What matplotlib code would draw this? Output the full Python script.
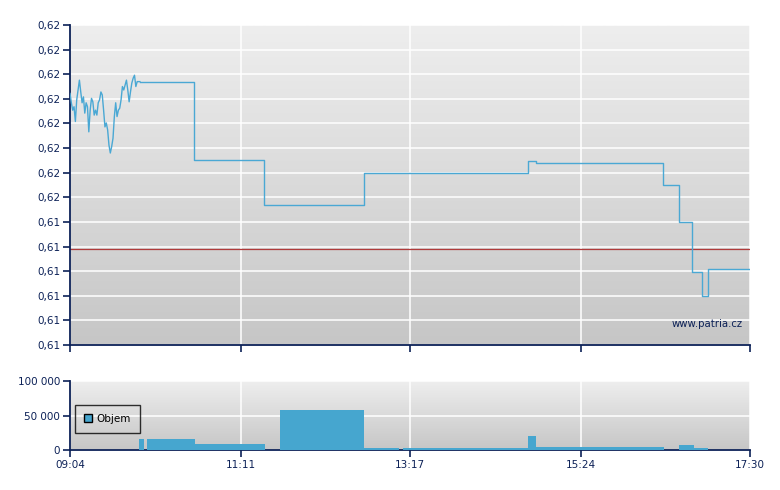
import matplotlib
matplotlib.use('Agg')
import matplotlib.pyplot as plt
import numpy as np
from matplotlib.colors import LinearSegmentedColormap
from matplotlib.patches import Patch

# ---------------- data ----------------
price_times = [
    "09:04", "09:05", "09:06", "09:07", "09:08", "09:09", "09:10", "09:11", "09:12", "09:13",
    "09:14", "09:15", "09:16", "09:17", "09:18", "09:19", "09:20", "09:21", "09:22", "09:23",
    "09:24", "09:25", "09:26", "09:27", "09:28", "09:29", "09:30", "09:31", "09:32", "09:33",
    "09:34", "09:35", "09:36", "09:37", "09:38", "09:39", "09:40", "09:41", "09:42", "09:43",
    "09:44", "09:45", "09:46", "09:47", "09:48", "09:49", "09:50", "09:51", "09:52", "09:53",
    "09:54", "09:56", "10:36", "11:28", "12:43", "14:45", "14:51", "16:25", "16:37", "16:47",
    "16:54", "16:59", "17:30",
]
price_values = [
    0.61761, 0.61742, 0.61727, 0.61734, 0.61704, 0.61748, 0.61768, 0.61788, 0.61764, 0.61742,
    0.61754, 0.61721, 0.61742, 0.61734, 0.61683, 0.61727, 0.61751, 0.61744, 0.61717, 0.61727,
    0.61717, 0.61742, 0.61748, 0.61764, 0.61758, 0.61727, 0.61693, 0.61701, 0.61687, 0.61656,
    0.61640, 0.61653, 0.61670, 0.61714, 0.61742, 0.61714, 0.61727, 0.61731, 0.61748, 0.61775,
    0.61768, 0.61778, 0.61788, 0.61768, 0.61744, 0.61764, 0.61782, 0.61792, 0.61798, 0.61775,
    0.61785, 0.61785, 0.61625, 0.61534, 0.61599, 0.61624, 0.61620, 0.61575, 0.61500, 0.61399,
    0.61350, 0.61405, 0.61405,
]
prev_close = 0.61445
step_from = "09:56"   # from here on the price is drawn as a step line

vol_start = ["09:55", "10:01", "10:37", "11:40", "12:43", "13:12", "14:45", "14:51", "16:37", "16:48"]
vol_end   = ["09:59", "10:37", "11:29", "12:43", "13:09", "14:45", "14:51", "16:26", "16:48", "16:59"]
vol_values = [16000, 16000, 8700, 57700, 2900, 2900, 20200, 4300, 7200, 2900]

y_ticks = [0.6125, 0.6130, 0.6135, 0.6140, 0.6145, 0.6150, 0.6155,
           0.6160, 0.6165, 0.6170, 0.6175, 0.6180, 0.6185, 0.6190]
y_tick_labels = ["0,61", "0,61", "0,61", "0,61", "0,61", "0,61", "0,62",
                 "0,62", "0,62", "0,62", "0,62", "0,62", "0,62", "0,62"]
x_tick_labels = ["09:04", "11:11", "13:17", "15:24", "17:30"]
vol_ticks = [0, 50000, 100000]
vol_tick_labels = ["0", "50 000", "100 000"]
legend_label = "Objem"
watermark = "www.patria.cz"

# ---------------- helpers ----------------
def tmin(s):
    h, m = s.split(":")
    return int(h) * 60 + int(m)

NAVY = "#0c2157"
LINE = "#4aa8d4"
BAR = "#46a6cf"
FS = 7.5

def gradient_bg(ax, top, bottom):
    grad = np.linspace(0, 1, 256).reshape(-1, 1)
    cmap = LinearSegmentedColormap.from_list("g", [top, bottom])
    ax.imshow(grad, extent=[0, 1, 0, 1], transform=ax.transAxes, aspect="auto",
              cmap=cmap, zorder=-5, interpolation="bilinear")

def style(ax):
    for s in ("top", "right"):
        ax.spines[s].set_visible(False)
    for s in ("left", "bottom"):
        ax.spines[s].set_color(NAVY)
        ax.spines[s].set_linewidth(1.3)
    ax.tick_params(colors=NAVY, labelcolor=NAVY, length=5, width=1.2, labelsize=FS, pad=2)
    ax.grid(True, color="white", linewidth=1.1)
    ax.set_axisbelow(True)

plt.rcParams["font.family"] = ["DejaVu Sans"]

fig = plt.figure(figsize=(7.8, 4.9), dpi=100)
W, H = 780, 490
ax1 = fig.add_axes([70 / W, 1 - 345 / H, 680 / W, 320 / H])
ax2 = fig.add_axes([70 / W, 1 - 450 / H, 680 / W, 69 / H])

xt = [tmin(t) for t in x_tick_labels]
x0, x1 = xt[0], xt[-1]

# ---- price panel ----
gradient_bg(ax1, "#eeeeee", "#c6c6c6")
pt = [tmin(t) for t in price_times]
k = price_times.index(step_from)
ax1.plot(pt[:k + 1], price_values[:k + 1], color=LINE, linewidth=1.0, zorder=3)
ax1.plot(pt[k:], price_values[k:], drawstyle="steps-post", color=LINE, linewidth=1.0, zorder=3)
ax1.axhline(prev_close, color="#b03a3a", linewidth=0.9, zorder=2)
ax1.set_xlim(x0, x1)
ax1.set_ylim(y_ticks[0], y_ticks[-1])
ax1.set_yticks(y_ticks)
ax1.set_yticklabels(y_tick_labels)
ax1.set_xticks(xt)
ax1.set_xticklabels([])
style(ax1)
ax1.text(0.99, 0.066, watermark, transform=ax1.transAxes, ha="right", va="center",
         color=NAVY, fontsize=7.3)

# ---- volume panel ----
gradient_bg(ax2, "#eeeeee", "#c6c6c6")
vs = [tmin(t) for t in vol_start]
ve = [tmin(t) for t in vol_end]
widths = [b - a for a, b in zip(vs, ve)]
ax2.bar(vs, vol_values, width=widths, align="edge", color=BAR, linewidth=0, zorder=3)
ax2.set_xlim(x0, x1)
ax2.set_ylim(0, 100000)
ax2.set_yticks(vol_ticks)
ax2.set_yticklabels(vol_tick_labels)
ax2.set_xticks(xt)
ax2.set_xticklabels(x_tick_labels)
style(ax2)
leg = ax2.legend(handles=[Patch(facecolor=BAR, edgecolor="black", linewidth=1.0, label=legend_label)],
                 loc="lower left", bbox_to_anchor=(0.007, 0.24), fontsize=7.5,
                 frameon=True, fancybox=False, handlelength=0.8, handleheight=0.8,
                 handletextpad=0.4, borderpad=0.9, borderaxespad=0)
leg.get_frame().set_facecolor("none")
leg.get_frame().set_edgecolor("black")
leg.get_frame().set_linewidth(1.0)

fig.savefig("out.png", dpi=100)
